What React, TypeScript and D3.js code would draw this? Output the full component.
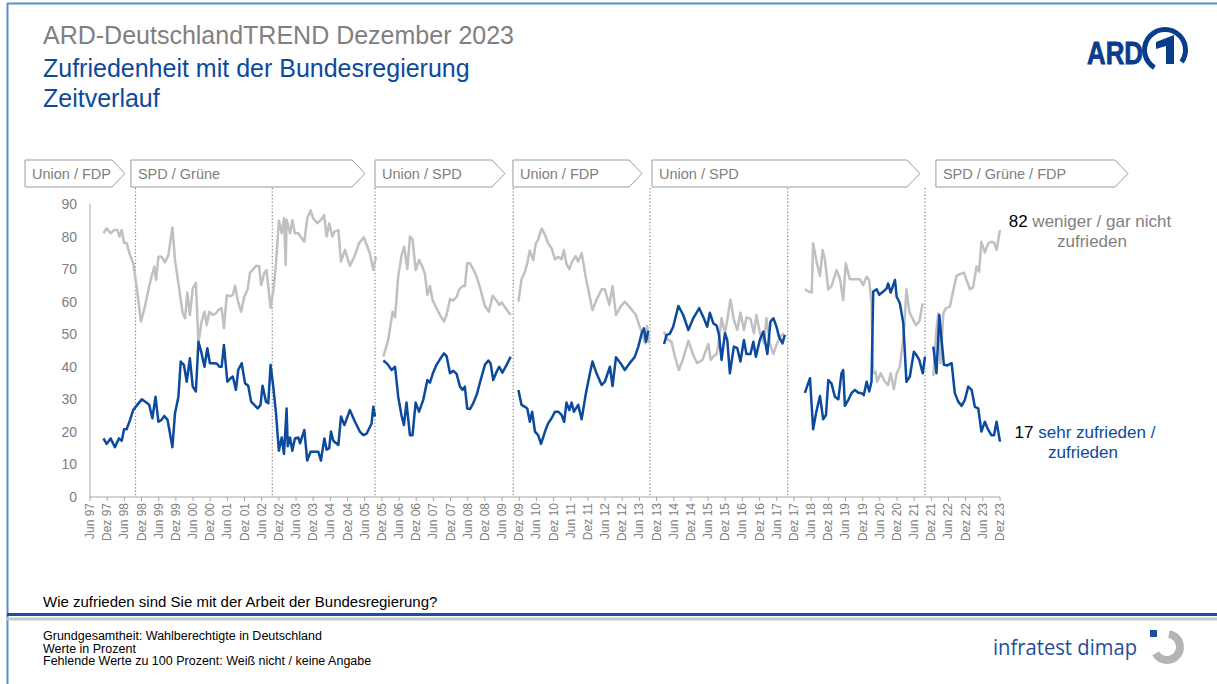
import React from 'react';
import * as d3 from 'd3';

const W = 1217;
const H = 684;

// x values: months since Jun 1997; y values: percent
const satisfied1997 = [[4.7,18],[5.8,16.3],[7.2,18],[8.7,15.3],[10.1,18],[11.1,17.3],[11.9,20.8],[12.8,20.8],[14.0,23.7],[15.1,26.7],[16.5,28.3],[18.1,30],[19.2,29.3],[20.7,28.3],[21.8,24.2],[22.9,30.8],[23.9,23.1],[25.0,23.7],[26.0,24.9],[27.1,23.7],[28.8,15.3],[29.7,25.7],[30.9,30.8],[31.7,41.6],[32.8,40.6],[33.8,35.4],[34.9,42.6],[35.9,33.9],[37.0,32.4],[37.9,47.7],[39.0,44.1],[40.0,40],[41.0,45.7],[41.9,41.1],[43.1,41.1],[44.3,41],[45.2,40],[46.0,40],[46.8,46.7],[48.0,35.4],[49.2,36.5],[49.9,37],[51.0,32.9],[51.8,39],[53.0,41.1],[54.2,34.9],[55.3,34.2],[56.3,29.3],[57.4,28.3],[58.6,27.2],[59.6,28.3],[60.3,34.2],[61.5,29.3],[62.3,28.8],[63.1,40.6],[64.1,33.4],[65.0,25.7],[66.0,14.2],[67.0,18.3],[67.8,13.2],[68.7,27.2],[69.1,15.6],[69.9,18.3],[70.7,14.2],[71.6,18],[72.8,18.3],[73.4,16.5],[74.9,20.6],[75.9,11.2],[77.1,13.9],[78.6,13.9],[79.8,13.9],[80.7,11.2],[81.9,18],[82.7,14.5],[83.6,15],[84.2,20.1],[85.0,17.3],[86.8,16],[87.7,24.7],[88.9,22.1],[90.8,26.7],[92.6,23.1],[94.3,20.1],[95.5,19],[96.7,19.5],[98.4,22.6],[99.0,27.7],[99.6,24.7]];
const unsatisfied1997 = [[4.7,81],[5.8,82.5],[7.2,81],[8.4,82],[9.6,82],[10.3,80],[11.1,82],[11.9,78],[12.8,78],[14.0,74.3],[15.1,71.8],[16.3,64.6],[17.8,53.9],[19.2,58.5],[20.4,63.6],[21.5,67.7],[22.5,70.8],[23.1,66.7],[23.9,73.8],[25.0,73.8],[26.2,72.1],[27.4,74.3],[28.8,82.8],[29.7,72.8],[30.9,65.6],[32.4,56.4],[33.2,54.9],[34.0,62.8],[34.9,55.9],[35.9,64.1],[37.0,65.8],[37.9,47.2],[39.0,53.9],[40.0,56.9],[40.8,52.8],[41.7,56.9],[42.9,55.9],[44.0,56.4],[44.8,57.4],[46.0,58],[46.8,51.8],[47.8,62],[48.9,61.7],[49.9,62],[50.7,64.9],[51.6,60.5],[52.8,56.9],[53.9,61.5],[55.1,63.8],[55.9,68.9],[57.1,70],[58.0,71],[59.1,70.9],[59.8,65.1],[60.9,68.7],[61.7,69.7],[63.1,58],[64.1,63.6],[65.0,71.8],[66.0,84.9],[67.0,81],[67.8,85.6],[68.4,71.3],[68.7,85.2],[69.3,83.2],[69.9,81],[70.7,85],[71.6,81],[72.8,81],[74.0,79.5],[74.9,78.4],[75.9,85.6],[77.1,88],[78.0,85.6],[79.4,84.1],[80.6,85],[81.8,86.6],[82.7,80],[83.6,84],[84.7,80],[85.4,81.5],[86.8,82],[87.7,72.3],[89.1,75.9],[90.8,71],[92.6,74.3],[94.0,77.9],[95.7,79.8],[97.8,74.8],[99.0,69.7],[99.9,73.8]];

const satisfied2005 = [[102.5,41.9],[103.9,40.9],[105.4,39],[106.6,40],[107.7,30.8],[108.9,24.9],[109.7,22.1],[110.6,29],[111.8,19],[112.7,19],[113.8,29],[115.0,26.2],[116.5,30],[117.9,35.9],[118.8,35.1],[119.9,38.2],[121.1,40.6],[122.5,42.6],[123.7,44.1],[124.6,43.3],[125.8,38],[126.9,38.8],[128.1,37.8],[129.3,33.9],[130.2,32.9],[131.0,33.9],[131.8,27.2],[132.8,27],[133.9,28.8],[135.1,31.3],[136.5,35.9],[138.0,40.6],[139.2,41.9],[140.0,41],[140.9,35.9],[142.1,38.5],[143.0,40],[144.1,38.2],[145.6,40.6],[147.0,43.1]];
const unsatisfied2005 = [[102.5,43.1],[104.2,48.2],[105.75,56.9],[106.6,55.2],[107.7,67.7],[108.9,74.3],[109.8,76.9],[110.9,70],[111.8,80],[112.7,79.2],[113.8,69.7],[115.0,72.8],[116.1,70.8],[117.0,68.7],[117.9,62.1],[118.8,64.8],[119.7,60.5],[121.1,58],[122.5,55.6],[123.7,53.9],[124.6,55.9],[125.8,60.8],[126.9,60.3],[128.1,61.5],[129.0,63.8],[130.2,64.8],[131.0,64.8],[131.8,71.8],[132.8,71.8],[133.9,70],[135.1,67.7],[136.5,63.6],[138.0,58.7],[139.4,56.9],[140.7,61.8],[141.9,60.5],[143.0,59],[143.8,59.8],[145.0,58.3],[147.0,55.9]];

const satisfied2009 = [[149.7,32.9],[150.8,28.3],[152.0,27.7],[152.8,27.2],[153.7,23.1],[154.5,26.2],[155.5,20.1],[156.6,19],[157.6,16.3],[159.0,20.1],[160.1,22.6],[161.3,24.2],[162.5,26.2],[163.6,26.2],[164.8,25.2],[165.7,23.1],[166.5,29],[167.5,26.7],[168.3,29],[169.1,26.2],[170.6,28.3],[171.8,23.9],[173.3,31.9],[174.7,38],[175.6,41.6],[177.0,38],[178.8,34.4],[179.9,35.4],[181.7,40],[182.6,34.1],[183.8,42.9],[185.4,41.1],[186.9,39],[188.4,40.9],[190.4,43.1],[191.6,46.2],[192.8,50.3],[193.6,51.8],[194.3,47.7],[195.1,51.1]];
const unsatisfied2009 = [[149.7,60],[150.8,66.9],[152.0,69.2],[152.8,71.8],[153.7,75.7],[154.9,72.8],[155.8,77.9],[156.6,79],[157.8,82.5],[159.0,80.5],[160.1,77.9],[161.3,76.4],[162.5,73],[163.6,73.8],[164.8,73],[165.6,75.9],[166.5,71.6],[167.5,70],[168.5,72.3],[169.7,74],[170.6,72.3],[171.8,74.9],[173.3,67.2],[175.6,57.4],[177.0,60.5],[178.8,63.8],[179.9,63.8],[181.5,59],[182.6,64.8],[183.8,55.9],[185.4,58.5],[186.9,60],[188.9,58],[190.8,55.9],[191.9,52.8],[193.1,49.8],[194.0,47.2],[194.7,52.5],[195.4,47.2]];

const satisfied2013 = [[200.6,47],[201.5,49.8],[202.6,50.1],[203.8,52.3],[205.6,58.7],[207.3,55.9],[209.1,51.3],[210.8,54.9],[212.9,58],[214.5,54.9],[215.7,52.3],[216.6,56.6],[217.8,53.4],[219.0,52.6],[219.8,49.8],[220.7,42.1],[221.9,50.3],[222.7,48.2],[223.6,38],[225.0,46.2],[226.2,45.7],[227.3,41.6],[228.5,48.2],[229.4,43.9],[230.8,43.9],[231.8,47.7],[232.7,43.1],[234.1,48.4],[235.3,50.8],[236.7,43.9],[237.8,53.9],[238.8,54.9],[239.9,52.3],[240.8,49.2],[242.0,47.2],[242.8,49.8]];
const unsatisfied2013 = [[200.6,50.8],[201.7,48.4],[203.2,47.7],[204.4,43.1],[205.8,39],[207.3,42.6],[209.1,48],[210.8,43.6],[212.2,41.1],[214.0,42.1],[216.1,47],[216.9,42.1],[218.0,43.3],[219.0,43.9],[219.8,48.2],[220.7,54.9],[221.9,50.3],[222.7,54.4],[223.8,60.7],[225.0,54.4],[226.2,51.3],[227.3,56.6],[228.5,51.3],[229.4,55.2],[230.8,54.7],[232.0,50.3],[232.9,55.9],[234.1,50.3],[235.5,47.2],[236.4,54.9],[237.6,47.2],[238.8,43.9],[239.9,46.8],[241.1,49.2],[242.5,50.3]];

const satisfied2018 = [[249.8,32],[251.6,36.5],[252.7,20.8],[253.7,25.7],[255.1,31],[256.2,23.9],[257.2,25.2],[258.0,35.9],[259.1,34.9],[260.3,30.8],[261.5,30],[262.6,38],[263.2,39],[263.8,28],[265.0,29.8],[266.1,31.9],[267.3,32.9],[268.5,32],[269.6,31.9],[270.4,31.3],[271.4,35.4],[272.3,32.4],[273.1,35.4],[273.7,63.1],[274.9,63.8],[275.8,62.1],[277.2,63.1],[278.4,64.1],[278.9,65.6],[279.8,62.8],[281.3,66.7],[281.9,61.5],[283.0,59.5],[284.2,53.4],[285.3,35.4],[286.5,37],[287.9,44.6],[288.8,43.6],[289.8,42.1],[291.0,38],[291.8,43.1]];
const unsatisfied2018 = [[249.8,63.8],[251.0,63.1],[252.2,62.8],[252.7,77.9],[253.9,72.3],[255.1,67.9],[256.0,75.9],[256.8,73],[258.0,63.8],[259.1,64.8],[260.9,69.7],[262.1,66.9],[263.2,60.5],[264.1,71.8],[265.5,66.9],[267.3,66.9],[269.0,66.9],[270.2,65.1],[271.4,67.7],[272.3,66.5],[273.1,59.5],[273.7,38],[274.5,38.5],[275.1,35.4],[276.3,38],[277.8,35.4],[278.9,34.4],[279.8,38],[280.9,33.1],[281.9,38],[283.0,40],[284.4,50.3],[285.3,63.8],[286.3,56.9],[287.4,54.9],[288.6,52.8],[289.8,53.9],[291.0,59.5]];

const satisfied2021 = [[294.7,46.2],[295.8,38],[296.8,55.9],[297.6,48.2],[298.4,40.6],[299.6,40.4],[301.1,41.1],[302.2,31.9],[303.4,29.3],[304.6,28],[305.7,29.8],[306.9,33.9],[308.1,32.9],[309.2,27.7],[310.4,27.2],[311.5,20.1],[312.7,23.1],[313.9,20.6],[315.0,19],[315.9,19],[316.8,23.1],[318,17]];
const unsatisfied2021 = [[294.7,37.2],[295.6,49.8],[296.4,56.4],[297.2,41.1],[298.2,56.4],[299.1,58],[300.5,58.5],[301.7,63.6],[302.8,67.9],[304.2,68.5],[305.4,68.9],[306.3,66.7],[307.5,63.8],[308.6,64.4],[309.8,70.8],[310.7,69.2],[311.5,78.4],[312.7,75.1],[313.9,77.9],[315.0,78.4],[315.9,78.2],[316.8,75.9],[318,82]];

const satisfiedSegments = [satisfied1997, satisfied2005, satisfied2009, satisfied2013, satisfied2018, satisfied2021];
const unsatisfiedSegments = [unsatisfied1997, unsatisfied2005, unsatisfied2009, unsatisfied2013, unsatisfied2018, unsatisfied2021];

// Bundestag elections (months since Jun 1997)
const elections = [15.9, 63.7, 99.6, 147.9, 195.7, 243.8, 291.8];

// Coalitions (start / end in months since Jun 1997)
const govLabels = ['Union / FDP', 'SPD / Grüne', 'Union / SPD', 'Union / FDP', 'Union / SPD', 'SPD / Grüne / FDP'];
const govStarts = [-22.7, 14.3, 99.6, 147.8, 196.4, 295.6];
const govEnds = [12.2, 96.1, 145.0, 192.9, 290.0, 362.7];

const yTicks = [0, 10, 20, 30, 40, 50, 60, 70, 80, 90];
const tickMonths = d3.range(0, 319, 6);
const tickLabel = (m: number) => {
  const i = m / 6;
  const yr = (1997 + Math.floor(i / 2)) % 100;
  return (i % 2 === 0 ? 'Jun ' : 'Dez ') + String(yr).padStart(2, '0');
};

const BLUE = '#0b4a9d';
const GREY_LINE = '#c0c0c0';
const TXT_GREY = '#808080';
const FONT = '"Liberation Sans", Arial, sans-serif';

export default function App() {
  const x = d3.scaleLinear().domain([0, 318]).range([90, 1000]);
  const y = d3.scaleLinear().domain([0, 90]).range([497, 204]);
  const line = d3.line<number[]>().x(d => x(d[0])).y(d => y(d[1]));

  const lastSat = satisfied2021[satisfied2021.length - 1][1];
  const lastUnsat = unsatisfied2021[unsatisfied2021.length - 1][1];

  const boxTop = 160;
  const boxBot = 187;
  const tip = 13;

  return (
    <svg width={W} height={H} style={{ position: 'absolute', left: 0, top: 0, background: '#fff' }} fontFamily={FONT}>
      <rect x={0} y={0} width={W} height={H} fill="#fff" />
      {/* frame */}
      <line x1={7} x2={W} y1={3.5} y2={3.5} stroke="#5a8ad2" strokeWidth={2} />
      <line x1={7.5} x2={7.5} y1={3} y2={H} stroke="#5a8ad2" strokeWidth={2} />

      {/* titles */}
      <text x={43} y={44} fontSize={25} fill={TXT_GREY}>ARD-DeutschlandTREND Dezember 2023</text>
      <text x={43} y={77} fontSize={25} fill={BLUE}>Zufriedenheit mit der Bundesregierung</text>
      <text x={43} y={107} fontSize={25} fill={BLUE}>Zeitverlauf</text>

      {/* ARD logo */}
      <g>
        <text x={1087} y={64} fontSize={31} fontWeight="bold" fill="#0a3c8c" stroke="#0a3c8c" strokeWidth={0.8} textLength={56} lengthAdjust="spacingAndGlyphs">ARD</text>
        <path d={d3.arc()({ innerRadius: 18, outerRadius: 23, startAngle: -2.6, endAngle: 2.2 }) || ''} transform="translate(1165,50)" fill="#0a3c8c" />
        <path d="M1156,42 L1174,35 L1174,64 L1166,64 L1166,46 L1156,49 Z" fill="#0a3c8c" />
      </g>

      {/* coalition boxes */}
      {govLabels.map((lab, i) => {
        const x0 = x(govStarts[i]);
        const x1 = x(govEnds[i]);
        const mid = (boxTop + boxBot) / 2;
        return (
          <g key={'gov' + i}>
            <path d={`M${x0},${boxTop} L${x1 - tip},${boxTop} L${x1},${mid} L${x1 - tip},${boxBot} L${x0},${boxBot} Z`} fill="#fff" stroke="#9a9a9a" strokeWidth={1} />
            <text x={x0 + 7} y={179} fontSize={14.5} fill={TXT_GREY}>{lab}</text>
          </g>
        );
      })}

      {/* election separators */}
      {elections.map((m, i) => (
        <line key={'el' + i} x1={x(m)} x2={x(m)} y1={boxBot + 1} y2={497} stroke="#808080" strokeWidth={1.2} strokeDasharray="1.2,2.2" />
      ))}

      {/* axes */}
      <line x1={90} x2={90} y1={y(90)} y2={y(0)} stroke="#a6a6a6" strokeWidth={1} />
      <line x1={90} x2={1000} y1={y(0)} y2={y(0)} stroke="#a6a6a6" strokeWidth={1} />
      {yTicks.map(t => (
        <text key={'y' + t} x={77} y={y(t) + 5} fontSize={14} fill={TXT_GREY} textAnchor="end">{t}</text>
      ))}
      {tickMonths.map(m => (
        <g key={'x' + m}>
          <line x1={x(m)} x2={x(m)} y1={y(0)} y2={y(0) + 4} stroke="#a6a6a6" strokeWidth={1} />
          <text transform={`translate(${x(m) + 4},503) rotate(-90)`} fontSize={12} fill={TXT_GREY} textAnchor="end">{tickLabel(m)}</text>
        </g>
      ))}

      {/* series */}
      {unsatisfiedSegments.map((seg, i) => (
        <path key={'u' + i} d={line(seg) || ''} fill="none" stroke={GREY_LINE} strokeWidth={2.5} strokeLinejoin="round" />
      ))}
      {satisfiedSegments.map((seg, i) => (
        <path key={'s' + i} d={line(seg) || ''} fill="none" stroke={BLUE} strokeWidth={2.5} strokeLinejoin="round" />
      ))}

      {/* end labels */}
      <text x={1090} y={227} fontSize={17} textAnchor="middle" fill={TXT_GREY}><tspan fill="#000">{lastUnsat}</tspan> weniger / gar nicht</text>
      <text x={1092} y={247} fontSize={17} textAnchor="middle" fill={TXT_GREY}>zufrieden</text>
      <text x={1085} y={438} fontSize={17} textAnchor="middle" fill={BLUE}><tspan fill="#000">{lastSat}</tspan> sehr zufrieden /</text>
      <text x={1083} y={458} fontSize={17} textAnchor="middle" fill={BLUE}>zufrieden</text>

      {/* question + footer */}
      <text x={43} y={607} fontSize={15} fill="#000">Wie zufrieden sind Sie mit der Arbeit der Bundesregierung?</text>
      <line x1={7} x2={W} y1={614.5} y2={614.5} stroke="#1d4f9e" strokeWidth={3} />
      <line x1={7} x2={W} y1={619} y2={619} stroke="#c8c8c8" strokeWidth={3} />
      <text x={43} y={640} fontSize={12.5} fill="#000">Grundgesamtheit: Wahlberechtigte in Deutschland</text>
      <text x={43} y={652.5} fontSize={12.5} fill="#000">Werte in Prozent</text>
      <text x={43} y={665} fontSize={12.5} fill="#000">Fehlende Werte zu 100 Prozent: Weiß nicht / keine Angabe</text>

      {/* infratest dimap logo */}
      <text x={993} y={655} fontSize={21} fill="#1d4f9e" fontFamily='"Open Sans", "Noto Sans", sans-serif' textLength={144} lengthAdjust="spacingAndGlyphs">infratest dimap</text>
      <path d={d3.arc()({ innerRadius: 9, outerRadius: 17, startAngle: 0.15, endAngle: 4.2 }) || ''} transform="translate(1167,647)" fill="#b4b4b4" />
      <rect x={1150} y={630} width={7} height={7} fill="#1d4f9e" />
    </svg>
  );
}
